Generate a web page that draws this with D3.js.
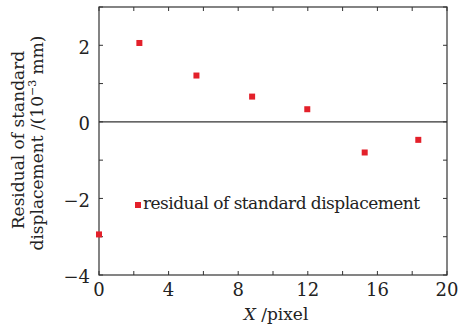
<!DOCTYPE html>
<html>
<head>
<meta charset="utf-8">
<script src="https://cdn.jsdelivr.net/npm/d3@7"></script>
<style>
  body { margin: 0; background: #fff; }
  text { font-family: "DejaVu Serif", "Liberation Serif", serif; fill: #222; }
</style>
</head>
<body>
<div id="chart"></div>
<script>
// data
let xValues = [0, 2.32, 5.6, 8.8, 11.97, 15.27, 18.35];
let yValues = [-2.94, 2.06, 1.21, 0.66, 0.33, -0.80, -0.47];
let xTicks = [0, 4, 8, 12, 16, 20];
let yTicks = [-4, -2, 0, 2];
let legendLabel = "residual of standard displacement";

// settings
let width = 460, height = 327;
let margin = {left: 99, right: 13, top: 7, bottom: 52};
let red = "#e3202a", axisColor = "#333";
let fontSize = "17px", tickSize = "18px";

let svg = d3.select("#chart").append("svg")
  .attr("width", width).attr("height", height);

let x = d3.scaleLinear().domain([0, 20]).range([margin.left, width - margin.right]);
let y = d3.scaleLinear().domain([-4, 3]).range([height - margin.bottom, margin.top]);

//frame
svg.append("rect")
  .attr("x", x(0)).attr("y", y(3))
  .attr("width", x(20) - x(0)).attr("height", y(-4) - y(3))
  .attr("fill", "none").attr("stroke", axisColor).attr("stroke-width", 1.2);

//inner ticks, all four sides
let tx = d3.range(0, 21, 2), ty = d3.range(-4, 3.1, 1);
svg.append("g").selectAll("line").data(tx).enter().append("line")
  .attr("x1", d => x(d)).attr("x2", d => x(d))
  .attr("y1", y(-4)).attr("y2", y(-4) - 4)
  .attr("stroke", axisColor);
svg.append("g").selectAll("line").data(tx).enter().append("line")
  .attr("x1", d => x(d)).attr("x2", d => x(d))
  .attr("y1", y(3)).attr("y2", y(3) + 4)
  .attr("stroke", axisColor);
svg.append("g").selectAll("line").data(ty).enter().append("line")
  .attr("x1", x(0)).attr("x2", x(0) + 4)
  .attr("y1", d => y(d)).attr("y2", d => y(d))
  .attr("stroke", axisColor);
svg.append("g").selectAll("line").data(ty).enter().append("line")
  .attr("x1", x(20)).attr("x2", x(20) - 4)
  .attr("y1", d => y(d)).attr("y2", d => y(d))
  .attr("stroke", axisColor);

//zero line
svg.append("line")
  .attr("x1", x(0)).attr("x2", x(20))
  .attr("y1", y(0)).attr("y2", y(0))
  .attr("stroke", axisColor).attr("stroke-width", 1.2);

//tick labels
svg.append("g").selectAll("text").data(xTicks).enter().append("text")
  .attr("x", d => x(d)).attr("y", y(-4) + 21)
  .attr("text-anchor", "middle").style("font-size", tickSize)
  .text(d => d);
svg.append("g").selectAll("text").data(yTicks).enter().append("text")
  .attr("x", x(0) - 9)
  .attr("y", d => y(d) + (d == -4 ? 8 : 8.5))
  .attr("text-anchor", "end").style("font-size", tickSize)
  .text(d => d < 0 ? "\u2212" + Math.abs(d) : d);

//axis titles
let xt = svg.append("text")
  .attr("x", 276).attr("y", 320)
  .attr("text-anchor", "middle").style("font-size", fontSize);
xt.append("tspan").style("font-style", "italic").text("X");
xt.append("tspan").text(" /pixel");

let yt = svg.append("g").attr("transform", "rotate(-90)");
yt.append("text").attr("x", -140).attr("y", 24)
  .attr("text-anchor", "middle").style("font-size", fontSize)
  .text("Residual of standard");
let yt2 = yt.append("text").attr("x", -143).attr("y", 43)
  .attr("text-anchor", "middle").style("font-size", fontSize);
yt2.append("tspan").text("displacement /(10");
yt2.append("tspan").attr("dy", -7).style("font-size", "11px").text("\u22123");
yt2.append("tspan").attr("dy", 7).text(" mm)");

//points
let points = xValues.map((d, i) => ({x: d, y: yValues[i]}));
svg.append("g").selectAll("rect").data(points).enter().append("rect")
  .attr("x", d => x(d.x) - 3).attr("y", d => y(d.y) - 3)
  .attr("width", 6).attr("height", 6)
  .attr("fill", red);

//legend
svg.append("rect")
  .attr("x", 135).attr("y", 202).attr("width", 6).attr("height", 6)
  .attr("fill", red);
svg.append("text")
  .attr("x", 143).attr("y", 208.5)
  .style("font-size", fontSize)
  .attr("textLength", 277)
  .text(legendLabel);
</script>
</body>
</html>
